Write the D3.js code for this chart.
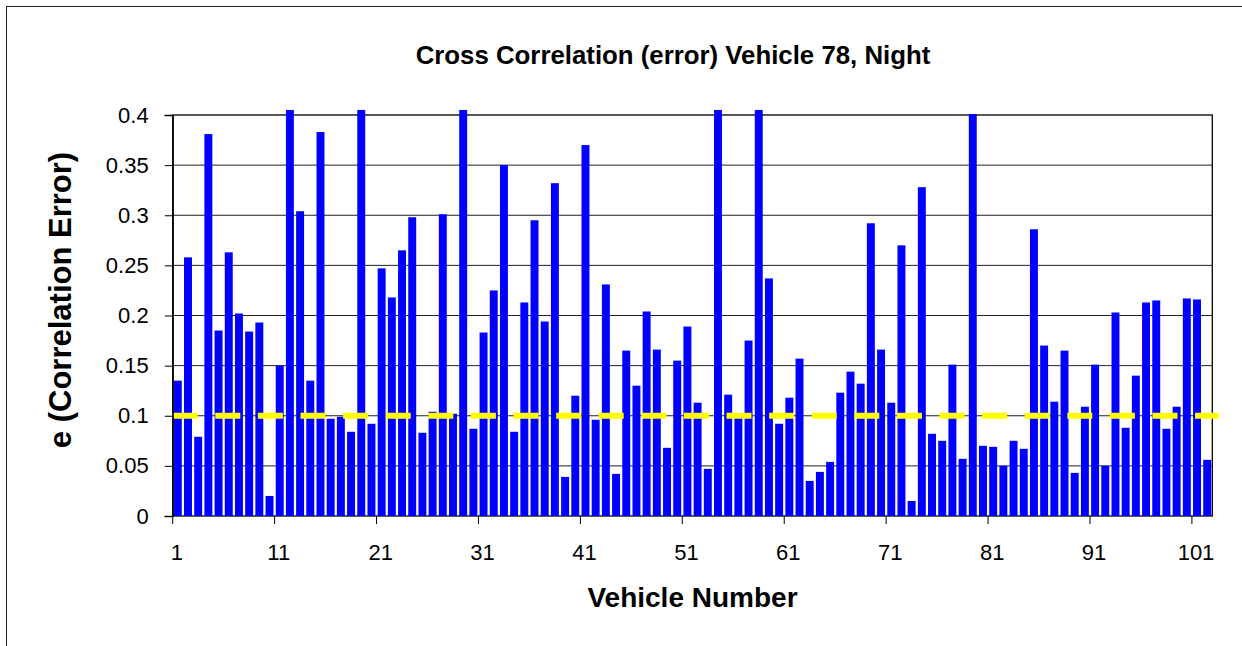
<!DOCTYPE html>
<html>
<head>
<meta charset="utf-8">
<script src="https://cdn.jsdelivr.net/npm/d3@7"></script>
<style>
  html, body { margin: 0; padding: 0; background: #fff; }
  svg { display: block; font-family: "Liberation Sans", Arial, sans-serif; }
</style>
</head>
<body>
<svg id="chart" width="1242" height="646"></svg>
<script>
// ---- data ----
const titleText = "Cross Correlation (error) Vehicle 78, Night";
const xTitle = "Vehicle Number";
const yTitle = "e (Correlation Error)";
const errorValues = [
  0.135, 0.258, 0.079, 0.381, 0.185, 0.263, 0.202, 0.184, 0.193, 0.020,
  0.150, 0.405, 0.304, 0.135, 0.383, 0.097, 0.099, 0.084, 0.405, 0.092,
  0.247, 0.218, 0.265, 0.298, 0.083, 0.104, 0.301, 0.102, 0.405, 0.087,
  0.183, 0.225, 0.350, 0.084, 0.213, 0.295, 0.194, 0.332, 0.039, 0.120,
  0.370, 0.096, 0.231, 0.042, 0.165, 0.130, 0.204, 0.166, 0.068, 0.155,
  0.189, 0.113, 0.047, 0.405, 0.121, 0.099, 0.175, 0.405, 0.237, 0.092,
  0.118, 0.157, 0.035, 0.044, 0.054, 0.123, 0.144, 0.132, 0.292, 0.166,
  0.113, 0.270, 0.015, 0.328, 0.082, 0.075, 0.151, 0.057, 0.401, 0.070,
  0.069, 0.050, 0.075, 0.067, 0.286, 0.170, 0.114, 0.165, 0.043, 0.109,
  0.151, 0.050, 0.203, 0.088, 0.140, 0.213, 0.215, 0.087, 0.109, 0.217,
  0.216, 0.056
];
const vehicles = errorValues.map((d, i) => i + 1);
const thresholdValue = 0.1;
const yTicks = [0, 0.05, 0.1, 0.15, 0.2, 0.25, 0.3, 0.35, 0.4];
const xTickLabels = [1, 11, 21, 31, 41, 51, 61, 71, 81, 91, 101];

// ---- layout ----
const svg = d3.select("#chart");
const plot = { left: 172.7, right: 1212.3, top: 115, bottom: 516 };

// chart area border
svg.append("rect")
  .attr("x", 6.5).attr("y", 6.5)
  .attr("width", 1260).attr("height", 680)
  .attr("fill", "none").attr("stroke", "#222").attr("stroke-width", 1);

const x = d3.scaleBand()
  .domain(vehicles)
  .range([plot.left, plot.right])
  .paddingInner(0.22)
  .paddingOuter(0.11);

const y = d3.scaleLinear().domain([0, 0.4]).range([plot.bottom, plot.top]);

// gridlines
svg.append("g")
  .selectAll("line")
  .data(yTicks.filter(t => t > 0 && t < 0.4))
  .join("line")
  .attr("x1", plot.left).attr("x2", plot.right)
  .attr("y1", d => y(d)).attr("y2", d => y(d))
  .attr("stroke", "#222").attr("stroke-width", 1);

// plot border
svg.append("rect")
  .attr("x", plot.left).attr("y", plot.top)
  .attr("width", plot.right - plot.left).attr("height", plot.bottom - plot.top)
  .attr("fill", "none").attr("stroke", "#000").attr("stroke-width", 1.3);

// bars
svg.append("g")
  .selectAll("rect")
  .data(errorValues)
  .join("rect")
  .attr("x", (d, i) => x(vehicles[i]))
  .attr("width", x.bandwidth())
  .attr("y", d => y(d))
  .attr("height", d => y(0) - y(d))
  .attr("fill", "#0000FF");

// threshold dashed line
svg.append("line")
  .attr("x1", x.range()[0])
  .attr("x2", x.range()[1] + 6.5)
  .attr("y1", y(thresholdValue)).attr("y2", y(thresholdValue))
  .attr("stroke", "#FFFF00")
  .attr("stroke-width", 6)
  .attr("stroke-dasharray", "25,17.6");

// y axis
const yAxis = d3.axisLeft(y)
  .tickValues(yTicks)
  .tickSize(8)
  .tickPadding(16)
  .tickFormat(d => d3.format("")(+d.toFixed(2)));
const yg = svg.append("g")
  .attr("transform", `translate(${plot.left},0)`)
  .call(yAxis);
yg.select(".domain").attr("stroke", "#000").attr("stroke-width", 1.3);
yg.selectAll(".tick line").attr("stroke", "#000");
yg.selectAll(".tick text")
  .attr("font-size", 22).attr("fill", "#000")
  .attr("font-family", "Liberation Sans, Arial, sans-serif");

// x axis: ticks at category boundaries every 10, labels at category centers
const step = x.step();
const xTickBounds = xTickLabels.map(v => plot.left + (v - 1) * step);
const xg = svg.append("g");
xg.selectAll("line")
  .data(xTickBounds)
  .join("line")
  .attr("x1", d => d).attr("x2", d => d)
  .attr("y1", plot.bottom).attr("y2", plot.bottom + 8)
  .attr("stroke", "#000").attr("stroke-width", 1);
xg.selectAll("text")
  .data(xTickLabels)
  .join("text")
  .attr("x", d => x(d) + x.bandwidth() / 2 - 1)
  .attr("y", 560)
  .attr("text-anchor", "middle")
  .attr("font-size", 22)
  .attr("fill", "#000")
  .text(d => d);

// titles
svg.append("text")
  .attr("x", 673).attr("y", 64)
  .attr("text-anchor", "middle")
  .attr("font-size", 25.8).attr("font-weight", "bold")
  .text(titleText);

svg.append("text")
  .attr("x", (plot.left + plot.right) / 2).attr("y", 607)
  .attr("text-anchor", "middle")
  .attr("font-size", 28).attr("font-weight", "bold")
  .text(xTitle);

svg.append("text")
  .attr("transform", `translate(71,300) rotate(-90)`)
  .attr("text-anchor", "middle")
  .attr("font-size", 31).attr("font-weight", "bold")
  .text(yTitle);
</script>
</body>
</html>
